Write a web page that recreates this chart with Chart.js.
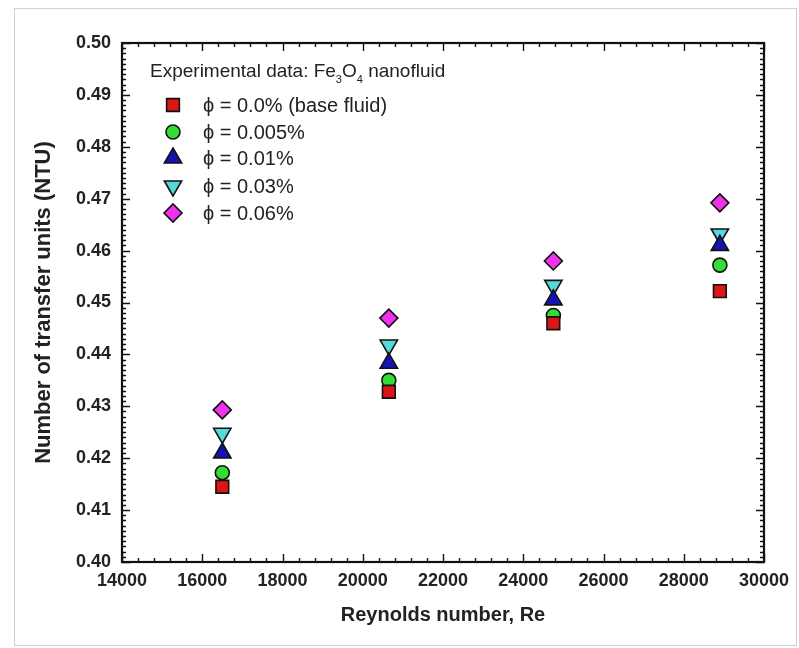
<!DOCTYPE html>
<html>
<head>
<meta charset="utf-8">
<script src="https://cdn.jsdelivr.net/npm/chart.js@4.4.1/dist/chart.umd.min.js"></script>
<style>
  html, body { margin: 0; padding: 0; background: #fff; }
  #wrap { width: 799px; height: 648px; position: relative; }
</style>
</head>
<body>
<div id="wrap"><canvas id="ntuCanvas" width="799" height="648"></canvas></div>
<script>
// Reynolds numbers of the four test points
const reynolds = [16500, 20650, 24750, 28900];

// NTU per volume concentration
const ntuBase = [0.4145, 0.4328, 0.4460, 0.4522];
const ntu005 = [0.4172, 0.4350, 0.4475, 0.4572];
const ntu01 = [0.4210, 0.4383, 0.4505, 0.4610];
const ntu03 = [0.4248, 0.4418, 0.4533, 0.4632];
const ntu06 = [0.4293, 0.4470, 0.4580, 0.4692];

const seriesLabels = ["ϕ = 0.0% (base fluid)", "ϕ = 0.005%", "ϕ = 0.01%", "ϕ = 0.03%", "ϕ = 0.06%"];
const legendTitle = ["Experimental data: Fe", "3", "O", "4", " nanofluid"];

const xTicks = [14000, 16000, 18000, 20000, 22000, 24000, 26000, 28000, 30000];
const yTicks = [0.40, 0.41, 0.42, 0.43, 0.44, 0.45, 0.46, 0.47, 0.48, 0.49, 0.50];

function pts(ys) {
    return reynolds.map(function (x, i) { return {x: x, y: ys[i]}; });
}

const markers = [
    {style: 'rect', color: '#dd1515', r: 9, rot: 0},
    {style: 'circle', color: '#33dd33', r: 7, rot: 0},
    {style: 'triangle', color: '#1414b4', r: 10, rot: 0},
    {style: 'triangle', color: '#55dada', r: 10, rot: 180},
    {style: 'rectRot', color: '#ee33ee', r: 9, rot: 0}
];
const allSeries = [ntuBase, ntu005, ntu01, ntu03, ntu06];

const datasets = allSeries.map(function (s, i) {
    const m = markers[i];
    return {
        label: seriesLabels[i],
        data: pts(s),
        showLine: false,
        pointStyle: m.style,
        pointRadius: m.r,
        pointHoverRadius: m.r,
        pointRotation: m.rot,
        backgroundColor: m.color,
        borderColor: '#111',
        pointBorderWidth: 1.6
    };
});

const fam = '"Liberation Sans", Arial, sans-serif';

// frame, inward ticks on all four sides, and the inset legend
const framePlugin = {
    id: 'framePlugin',
    beforeDraw: function (chart) {
        const c = chart.ctx;
        c.save();
        c.strokeStyle = '#d0d0d0';
        c.lineWidth = 1;
        c.strokeRect(14.5, 8.5, 782, 637);
        c.restore();
    },
    afterDraw: function (chart) {
        const c = chart.ctx;
        const a = chart.chartArea;
        const xs = chart.scales.x, ys = chart.scales.y;
        c.save();
        c.strokeStyle = '#111';
        c.lineWidth = 1.4;
        c.beginPath();
        for (let v = 14000; v <= 30000; v += 400) {
            const px = Math.round(xs.getPixelForValue(v)) + 0.5;
            const len = (v % 2000 === 0) ? 8 : 4;
            c.moveTo(px, a.bottom); c.lineTo(px, a.bottom - len);
            c.moveTo(px, a.top); c.lineTo(px, a.top + len);
        }
        for (let k = 0; k <= 100; k++) {
            const v = 0.40 + k * 0.001;
            const py = Math.round(ys.getPixelForValue(v)) + 0.5;
            const len = (k % 10 === 0) ? 8 : 4;
            c.moveTo(a.left, py); c.lineTo(a.left + len, py);
            c.moveTo(a.right, py); c.lineTo(a.right - len, py);
        }
        c.stroke();
        c.lineWidth = 2.2;
        c.strokeRect(a.left, a.top, a.right - a.left, a.bottom - a.top);

        // legend
        c.fillStyle = '#222';
        c.textBaseline = 'middle';
        let tx = 150;
        const ty = 72;
        legendTitle.forEach(function (part, i) {
            if (i === 1 || i === 3) {
                c.font = '11px ' + fam;
                c.fillText(part, tx, ty + 8);
            } else {
                c.font = '19px ' + fam;
                c.fillText(part, tx, ty);
            }
            tx += c.measureText(part).width;
        });
        c.font = '20px ' + fam;
        const rows = [105, 132, 158, 186, 213];
        markers.forEach(function (m, i) {
            c.fillStyle = m.color;
            c.strokeStyle = '#111';
            c.lineWidth = 1.6;
            Chart.helpers.drawPoint(c, {pointStyle: m.style, radius: m.r, rotation: m.rot, borderWidth: 1.6}, 173, rows[i]);
            c.fillStyle = '#222';
            c.fillText(seriesLabels[i], 203, rows[i] + 1);
        });
        c.restore();
    }
};

const ctx = document.getElementById("ntuCanvas");

var ntuChart = new Chart(ctx, {
    type: 'scatter',
    data: {datasets: datasets},
    options: {
        responsive: false,
        animation: false,
        layout: {padding: {left: 0, top: 43, right: 35, bottom: 0}},
        plugins: {legend: {display: false}, tooltip: {enabled: false}},
        scales: {
            x: {
                type: 'linear',
                min: 14000, max: 30000,
                afterBuildTicks: function (s) { s.ticks = xTicks.map(function (v) { return {value: v}; }); },
                afterFit: function (s) { s.height = 86; },
                grid: {display: false, drawTicks: false},
                border: {display: false},
                ticks: {
                    padding: 8,
                    color: '#222',
                    font: {family: fam, size: 18, weight: 'bold'},
                    maxRotation: 0,
                    autoSkip: false,
                    callback: function (v) { return String(v); }
                },
                title: {
                    display: true,
                    text: 'Reynolds number, Re',
                    color: '#222',
                    font: {family: fam, size: 20, weight: 'bold'},
                    padding: {top: 0, bottom: 21}
                }
            },
            y: {
                type: 'linear',
                min: 0.40, max: 0.50,
                afterBuildTicks: function (s) { s.ticks = yTicks.map(function (v) { return {value: v}; }); },
                afterFit: function (s) { s.width = 122; },
                grid: {display: false, drawTicks: false},
                border: {display: false},
                ticks: {
                    padding: 11,
                    color: '#222',
                    font: {family: fam, size: 18, weight: 'bold'},
                    callback: function (v) { return Number(v).toFixed(2); }
                },
                title: {
                    display: true,
                    text: 'Number of transfer units (NTU)',
                    color: '#222',
                    font: {family: fam, size: 22, weight: 'bold'},
                    padding: {top: 31, bottom: 0}
                }
            }
        }
    },
    plugins: [framePlugin]
});
</script>
</body>
</html>
